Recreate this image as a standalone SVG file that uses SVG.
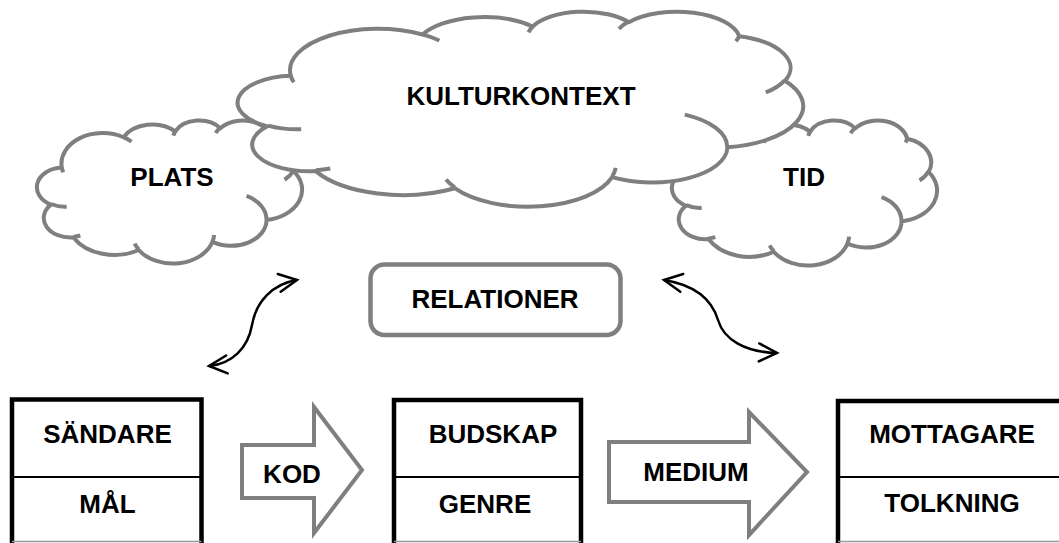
<svg xmlns="http://www.w3.org/2000/svg" width="1059" height="543" viewBox="0 0 1059 543">
<style>
.cloud{fill:#fff;stroke:#7f7f7f;stroke-width:4;stroke-linejoin:round}
.hook{fill:none;stroke:#7f7f7f;stroke-width:4}
.lbl{font-family:"Liberation Sans",Arial,sans-serif;font-weight:bold;font-size:26px;fill:#000;text-anchor:middle}
.box{fill:#fff;stroke:#000;stroke-width:4.5}
.div{stroke:#000;stroke-width:2}
.base{stroke:#999;stroke-width:1.5}
.blk{fill:#fff;stroke:#7f7f7f;stroke-width:4;stroke-linejoin:miter}
.rel{fill:#fff;stroke:#7f7f7f;stroke-width:4.5}
.dbl{fill:none;stroke:#000;stroke-width:2.5;marker-start:url(#v);marker-end:url(#v)}
</style>
<defs>
<path id="cloudShape" vector-effect="non-scaling-stroke" d="M3900,14370 A6753,9190 0 0 1 14005,5202 A5333,7267 0 0 1 22455,3432 A4365,5945 0 0 1 29832,2480 A4857,6595 0 0 1 38317,5576 A5333,7273 0 0 1 41817,15459 A6775,9220 0 0 1 37403,30202 A5785,7867 0 0 1 28554,36812 A6752,9215 0 0 1 16479,39264 A7720,10543 0 0 1 5804,35471 A4360,5918 0 0 1 2113,25549 A4345,5945 0 0 1 3900,14370 Z"/>
<path id="cloudHooks" vector-effect="non-scaling-stroke" d="M4693,26177 A4345,5945 0 0 1 2160,25380 M6928,34899 A4360,5918 0 0 1 5820,35281 M16478,39090 A6752,9215 0 0 1 15810,37349 M28827,34751 A6752,9215 0 0 1 28560,36660 M34129,22954 A5785,7867 0 0 1 37381,30090 M41798,15354 A5333,7273 0 0 1 40350,18030 M38324,5426 A4857,6595 0 0 1 38051,6715 M29078,3952 A4857,6595 0 0 1 29820,2339 M22141,4720 A4365,5945 0 0 1 22500,3331 M14000,5192 A6753,9190 0 0 1 15299,6539 M4127,15789 A6753,9190 0 0 1 3900,14370"/>
<marker id="v" markerUnits="userSpaceOnUse" markerWidth="1" markerHeight="1" refX="0" refY="0" orient="auto-start-reverse" style="overflow:visible">
<path d="M-18,-9 L0,0 L-18,9" fill="none" stroke="#000" stroke-width="2.5" stroke-linecap="round"/>
</marker>
</defs>

<g id="cloud-plats">
<g transform="translate(38,120) scale(0.0061111,0.0033102)">
<use href="#cloudShape" class="cloud"/>
<use href="#cloudHooks" class="hook"/>
</g>
<text x="172" y="186" class="lbl">PLATS</text>
</g>

<g id="cloud-tid">
<g transform="translate(673,120) scale(0.0061111,0.0033565)">
<use href="#cloudShape" class="cloud"/>
<use href="#cloudHooks" class="hook"/>
</g>
<text x="804" y="186" class="lbl">TID</text>
</g>

<g id="cloud-kulturkontext">
<g transform="translate(240,11) scale(0.013032,0.0045139)">
<use href="#cloudShape" class="cloud"/>
<use href="#cloudHooks" class="hook"/>
</g>
<text x="521" y="105" class="lbl">KULTURKONTEXT</text>
</g>

<g id="node-relationer">
<rect x="370.5" y="264.5" width="250" height="70.5" rx="14" class="rel"/>
<text x="495" y="308" class="lbl">RELATIONER</text>
</g>

<g id="node-sandare">
<rect x="12" y="399.5" width="189.5" height="160" class="box"/>
<line x1="12" y1="477" x2="201.5" y2="477" class="div"/>
<line x1="12" y1="541.5" x2="201.5" y2="541.5" class="base"/>
<text x="107.5" y="443" class="lbl">SÄNDARE</text>
<text x="107.5" y="513" class="lbl">MÅL</text>
</g>

<g id="node-budskap">
<rect x="394" y="400" width="187" height="160" class="box"/>
<line x1="394" y1="477" x2="581" y2="477" class="div"/>
<line x1="394" y1="541.5" x2="581" y2="541.5" class="base"/>
<text x="493" y="443" class="lbl">BUDSKAP</text>
<text x="485" y="513" class="lbl">GENRE</text>
</g>

<g id="node-mottagare">
<rect x="838" y="401" width="240" height="160" class="box"/>
<line x1="838" y1="477" x2="1059" y2="477" class="div"/>
<line x1="838" y1="541.5" x2="1059" y2="541.5" class="base"/>
<text x="952" y="443" class="lbl">MOTTAGARE</text>
<text x="952" y="512" class="lbl">TOLKNING</text>
</g>

<g id="arrow-kod">
<polygon points="242,445 314,445 314,407 362,470 314,533 314,498 242,498" class="blk"/>
<text x="292" y="483" class="lbl">KOD</text>
</g>

<g id="arrow-medium">
<polygon points="609,442 749,442 749,412 807,472 749,535 749,502 609,502" class="blk"/>
<text x="696" y="481" class="lbl">MEDIUM</text>
</g>

<g id="connectors">
<path d="M209,366 C232,364 248,348 252,325 C256,302 272,284 297,280" class="dbl"/>
<path d="M664,280 C695,285 712,300 718,320 C724,340 745,352 777,353" class="dbl"/>
</g>
</svg>
